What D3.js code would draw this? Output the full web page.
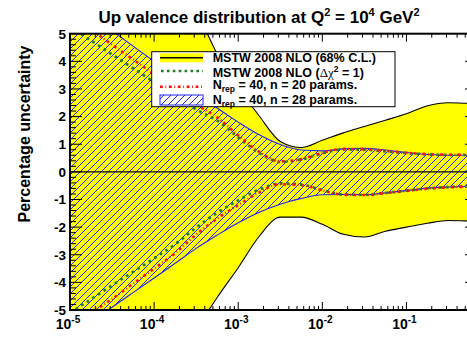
<!DOCTYPE html>
<html>
<head>
<meta charset="utf-8">
<script src="https://cdn.jsdelivr.net/npm/d3@7"></script>
<style>
  html, body { margin: 0; padding: 0; background: #fff; }
  svg { display: block; font-family: "Liberation Sans", Arial, sans-serif; }
</style>
</head>
<body>
<svg id="chart" width="467" height="349"></svg>
<script>
// x grid (momentum fraction), quarter-decade steps
const xGrid = [1e-5, 1.78e-5, 3.16e-5, 5.62e-5, 1e-4, 1.78e-4, 3.16e-4, 5.62e-4,
               1e-3, 1.78e-3, 3.16e-3, 5.62e-3, 0.01, 0.0178, 0.0316, 0.0562,
               0.1, 0.178, 0.316, 0.562, 0.69];

// MSTW 2008 NLO, 68% C.L. band (percent)
const mstw68Up = [11, 10.5, 10, 9.5, 9, 7.6, 5.9, 4.27, 3.06, 2.02, 1.1, 0.88, 1.14, 1.41, 1.64, 1.87, 2.1, 2.39, 2.5, 2.48, 2.48];
const mstw68Dn = [-11, -10.5, -10, -9.5, -9, -7.8, -5.8, -4.55, -3.47, -2.33, -1.64, -1.64, -1.9, -2.26, -2.36, -2.15, -2.0, -1.86, -1.76, -1.78, -1.79];

// MSTW 2008 NLO, Delta chi^2 = 1
const mstw1Up = [5.25, 4.75, 4.25, 3.75, 3.25, 2.76, 2.26, 1.85, 1.25, 0.68, 0.36, 0.45, 0.67, 0.81, 0.80, 0.74, 0.68, 0.63, 0.61, 0.61, 0.61];
const mstw1Dn = [-5.11, -4.61, -4.11, -3.62, -3.13, -2.62, -2.02, -1.48, -1.03, -0.64, -0.42, -0.46, -0.66, -0.82, -0.83, -0.76, -0.68, -0.60, -0.55, -0.53, -0.53];

// N_rep = 40, n = 20 params
const rep20Up = [5.65, 5.15, 4.6, 4.07, 3.53, 3.0, 2.44, 1.97, 1.32, 0.72, 0.38, 0.46, 0.69, 0.83, 0.82, 0.76, 0.69, 0.64, 0.62, 0.62, 0.62];
const rep20Dn = [-5.6, -5.1, -4.6, -4.05, -3.5, -2.94, -2.27, -1.69, -1.2, -0.74, -0.45, -0.48, -0.67, -0.83, -0.84, -0.77, -0.69, -0.61, -0.56, -0.54, -0.54];

// N_rep = 40, n = 28 params (hatched band)
const rep28Up = [6.2, 5.67, 5.11, 4.55, 4.0, 3.44, 2.88, 2.31, 1.8, 1.34, 0.99, 0.79, 0.76, 0.83, 0.85, 0.79, 0.70, 0.63, 0.60, 0.60, 0.60];
const rep28Dn = [-5.96, -5.43, -4.90, -4.37, -3.84, -3.31, -2.77, -2.29, -1.84, -1.46, -1.17, -0.96, -0.83, -0.82, -0.83, -0.76, -0.68, -0.59, -0.55, -0.53, -0.53];

// axis ticks
const xMajorTicks = [1e-5, 1e-4, 1e-3, 1e-2, 1e-1];
const xTickExponents = ["-5", "-4", "-3", "-2", "-1"];
const yMajorTicks = [-5, -4, -3, -2, -1, 0, 1, 2, 3, 4, 5];

const legendLabels = ["MSTW 2008 NLO (68% C.L.)", "MSTW 2008 NLO (\u0394\u03C7\u00B2 = 1)",
                      "N_rep = 40, n = 20 params.", "N_rep = 40, n = 28 params."];

const svg = d3.select("#chart");
const plot = { left: 70, right: 477, top: 33.7, bottom: 310 };

const x = d3.scaleLog().domain([1e-5, 0.69]).range([plot.left, plot.right]);
const y = d3.scaleLinear().domain([-5, 5]).range([plot.bottom, plot.top]);

const defs = svg.append("defs");
defs.append("clipPath").attr("id", "plotClip")
  .append("rect")
  .attr("x", plot.left).attr("y", plot.top)
  .attr("width", plot.right - plot.left).attr("height", plot.bottom - plot.top);

const hatch = defs.append("pattern").attr("id", "hatch")
  .attr("patternUnits", "userSpaceOnUse").attr("width", 7).attr("height", 7);
hatch.append("path").attr("d", "M-1,1 l2,-2 M0,7 l7,-7 M6,8 l2,-2")
  .attr("stroke", "#2020ff").attr("stroke-width", 1);

const rows = xGrid.map((xv, i) => ({
  x: xv,
  m68u: mstw68Up[i], m68d: mstw68Dn[i],
  m1u: mstw1Up[i], m1d: mstw1Dn[i],
  r20u: rep20Up[i], r20d: rep20Dn[i],
  r28u: rep28Up[i], r28d: rep28Dn[i]
}));

const curve = d3.curveMonotoneX;
const band = (lo, hi) => d3.area().curve(curve).x(d => x(d.x)).y0(d => y(d[lo])).y1(d => y(d[hi]));
const line = key => d3.line().curve(curve).x(d => x(d.x)).y(d => y(d[key]));

const g = svg.append("g").attr("clip-path", "url(#plotClip)");

// 68% C.L. band
g.append("path").datum(rows).attr("d", band("m68d", "m68u")).attr("fill", "#ffff00");
["m68u", "m68d"].forEach(k => g.append("path").datum(rows).attr("d", line(k))
  .attr("fill", "none").attr("stroke", "#000").attr("stroke-width", 1.1));

// n = 28 hatched band
g.append("path").datum(rows).attr("d", band("r28d", "r28u")).attr("fill", "url(#hatch)");
["r28u", "r28d"].forEach(k => g.append("path").datum(rows).attr("d", line(k))
  .attr("fill", "none").attr("stroke", "#2020ff").attr("stroke-width", 1.1));

// Delta chi^2 = 1 (dotted green)
["m1u", "m1d"].forEach(k => g.append("path").datum(rows).attr("d", line(k))
  .attr("fill", "none").attr("stroke", "#1f7f1f").attr("stroke-width", 2.7)
  .attr("stroke-dasharray", "2.7,4"));

// n = 20 (dash-dot red)
["r20u", "r20d"].forEach(k => g.append("path").datum(rows).attr("d", line(k))
  .attr("fill", "none").attr("stroke", "#ff1010").attr("stroke-width", 2.6)
  .attr("stroke-dasharray", "2.8,2.6,0.9,2.6"));

// zero line
g.append("line").attr("x1", plot.left).attr("x2", plot.right)
  .attr("y1", y(0)).attr("y2", y(0)).attr("stroke", "#000").attr("stroke-width", 1.4);

// ticks
const ticks = svg.append("g").attr("stroke", "#000").attr("stroke-width", 1);
const yMinor = d3.range(-50, 51, 2).map(v => v / 10);
yMinor.forEach(v => {
  const major = yMajorTicks.includes(v);
  const len = major ? 12 : 6;
  ticks.append("line").attr("x1", plot.left).attr("x2", plot.left + len).attr("y1", y(v)).attr("y2", y(v));
  ticks.append("line").attr("x1", plot.right).attr("x2", plot.right - len).attr("y1", y(v)).attr("y2", y(v));
});
xMajorTicks.forEach(d => {
  for (let k = 1; k <= 9; k++) {
    const v = d * k;
    if (v > x.domain()[1]) break;
    const len = k === 1 ? 8 : 4;
    ticks.append("line").attr("x1", x(v)).attr("x2", x(v)).attr("y1", plot.bottom).attr("y2", plot.bottom - len);
    ticks.append("line").attr("x1", x(v)).attr("x2", x(v)).attr("y1", plot.top).attr("y2", plot.top + len);
  }
});

// frame
svg.append("rect").attr("x", plot.left).attr("y", plot.top)
  .attr("width", plot.right - plot.left).attr("height", plot.bottom - plot.top)
  .attr("fill", "none").attr("stroke", "#000").attr("stroke-width", 2);

// y tick labels
svg.append("g").selectAll("text").data(yMajorTicks).join("text")
  .attr("x", 66).attr("y", d => y(d)).attr("dy", "0.36em")
  .attr("text-anchor", "end").attr("font-size", 13.5).attr("font-weight", "bold")
  .text(d => d);

// x tick labels 10^n
const xl = svg.append("g").selectAll("text").data(xMajorTicks).join("text")
  .attr("x", d => x(d) - 2).attr("y", 329)
  .attr("text-anchor", "middle").attr("font-size", 14).attr("font-weight", "bold");
xl.append("tspan").text("10");
xl.append("tspan").attr("dy", -6.5).attr("font-size", 10).text((d, i) => xTickExponents[i]);

// y axis title
svg.append("text").attr("transform", "translate(30,134) rotate(-90)")
  .attr("text-anchor", "middle").attr("font-size", 16).attr("font-weight", "bold")
  .text("Percentage uncertainty");

// title
const title = svg.append("text").attr("x", 259).attr("y", 23)
  .attr("text-anchor", "middle").attr("font-size", 17).attr("font-weight", "bold");
title.append("tspan").text("Up valence distribution at Q");
title.append("tspan").attr("dy", -7).attr("font-size", 11).text("2");
title.append("tspan").attr("dy", 7).text(" = 10");
title.append("tspan").attr("dy", -7).attr("font-size", 11).text("4");
title.append("tspan").attr("dy", 7).text(" GeV");
title.append("tspan").attr("dy", -7).attr("font-size", 11).text("2");

// legend
const lg = svg.append("g");
lg.append("rect").attr("x", 151.7).attr("y", 51.7).attr("width", 243.3).attr("height", 55)
  .attr("fill", "#fff").attr("stroke", "#000").attr("stroke-width", 1);

const symX0 = 160, symX1 = 203, textX = 212.7;
lg.append("rect").attr("x", symX0).attr("y", 53.3).attr("width", symX1 - symX0).attr("height", 9)
  .attr("fill", "#ffff00");
lg.append("line").attr("x1", symX0).attr("x2", symX1).attr("y1", 57.8).attr("y2", 57.8)
  .attr("stroke", "#000").attr("stroke-width", 1.6);
lg.append("line").attr("x1", symX0 + 1).attr("x2", symX1).attr("y1", 71).attr("y2", 71)
  .attr("stroke", "#1f7f1f").attr("stroke-width", 2.6).attr("stroke-dasharray", "2.6,3.3");
lg.append("line").attr("x1", symX0).attr("x2", symX1).attr("y1", 86.7).attr("y2", 86.7)
  .attr("stroke", "#ff1010").attr("stroke-width", 2.6).attr("stroke-dasharray", "2.8,2.6,0.9,2.6");
lg.append("rect").attr("x", symX0).attr("y", 95).attr("width", symX1 - symX0).attr("height", 10)
  .attr("fill", "url(#hatch)").attr("stroke", "#2020ff").attr("stroke-width", 1);

const lt = (yy) => lg.append("text").attr("x", textX).attr("y", yy)
  .attr("font-size", 12.5).attr("font-weight", "bold");

lt(62.3).text(legendLabels[0]);

const t2 = lt(77.3);
t2.append("tspan").text("MSTW 2008 NLO (");
t2.append("tspan").attr("font-family", "'Liberation Serif', serif").attr("font-weight", "normal")
  .attr("font-size", 13).text("\u0394\u03C7");
t2.append("tspan").attr("dy", -5).attr("font-size", 8.5).text("2");
t2.append("tspan").attr("dy", 5).text(" = 1)");

[[legendLabels[2], 88.5], [legendLabels[3], 103.5]].forEach(([lab, yy]) => {
  const [pre, rest] = lab.split("_rep");
  const t = lt(yy);
  t.append("tspan").text(pre);
  t.append("tspan").attr("dy", 3.5).attr("font-size", 8.5).text("rep");
  t.append("tspan").attr("dy", -3.5).text(rest);
});
</script>
</body>
</html>
